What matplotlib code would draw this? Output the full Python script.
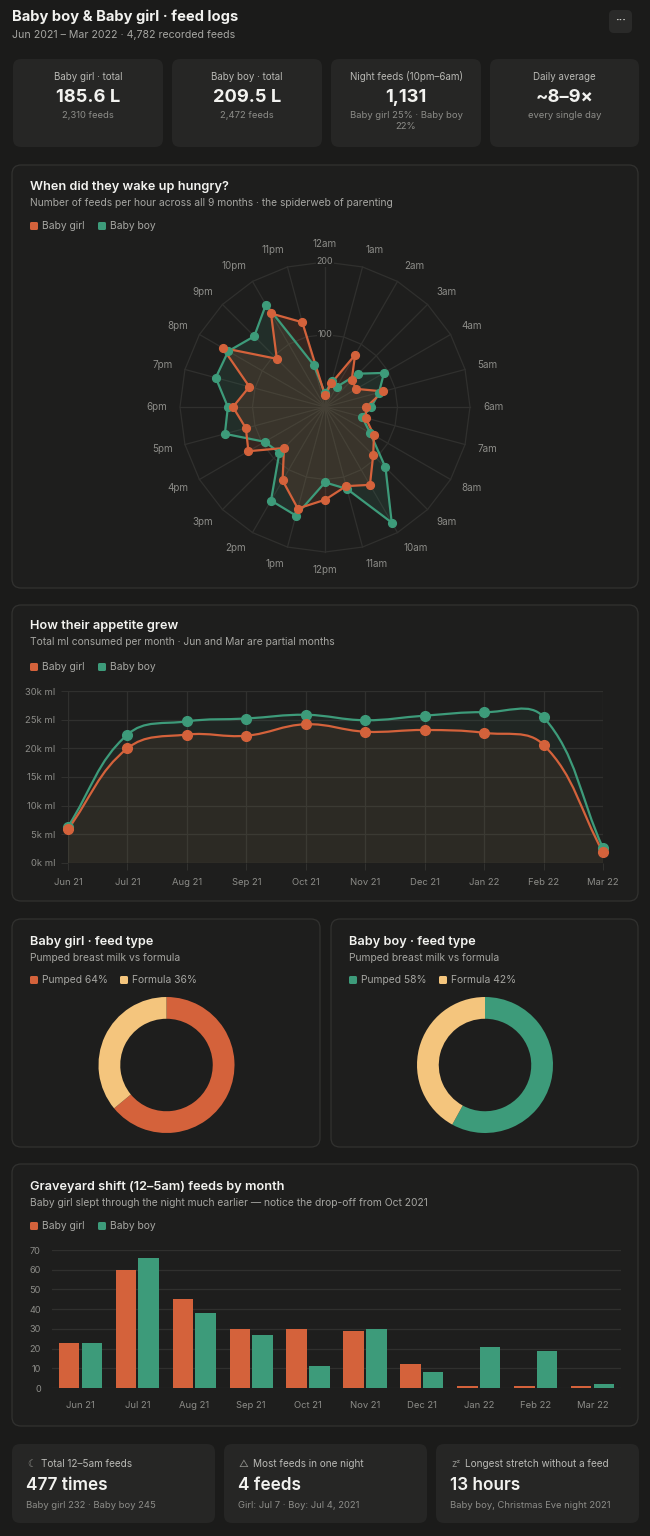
import numpy as np
import matplotlib
matplotlib.use("Agg")
import matplotlib.pyplot as plt
from matplotlib.patches import FancyBboxPatch, Polygon, PathPatch
from matplotlib.path import Path

plt.rcParams['font.family'] = ['Inter', 'DejaVu Sans']

W, H = 650, 1536

# ---- data ----
hours = ["12am", "1am", "2am", "3am", "4am", "5am", "6am", "7am", "8am", "9am", "10am", "11am",
         "12pm", "1pm", "2pm", "3pm", "4pm", "5pm", "6pm", "7pm", "8pm", "9pm", "10pm", "11pm"]
girl_hourly = [16, 34, 83, 52, 50, 83, 57, 58, 78, 94, 124, 113,
               128, 145, 117, 80, 122, 113, 127, 108, 163, 94, 149, 121]
boy_hourly = [19, 37, 32, 65, 94, 77, 64, 53, 72, 118, 184, 117,
              104, 155, 149, 89, 96, 143, 134, 156, 154, 138, 163, 60]

months = ["Jun 21", "Jul 21", "Aug 21", "Sep 21", "Oct 21", "Nov 21", "Dec 21", "Jan 22", "Feb 22", "Mar 22"]
girl_ml = [5900, 20000, 22400, 22200, 24200, 22900, 23200, 22700, 20600, 1900]
boy_ml = [6350, 22400, 24700, 25200, 25850, 24900, 25700, 26300, 25450, 2600]

girl_night = [23, 60, 45, 30, 30, 29, 12, 1, 1, 1]
boy_night = [23, 66, 38, 27, 11, 30, 8, 21, 19, 2]

feed_types = ["Pumped", "Formula"]
girl_type = [64, 36]
boy_type = [58, 42]

stat_labels = ["Baby girl · total", "Baby boy · total", "Night feeds (10pm–6am)", "Daily average"]
stat_values = ["185.6 L", "209.5 L", "1,131", "~8–9×"]
stat_subs = ["2,310 feeds", "2,472 feeds", "Baby girl 25% · Baby boy\n22%", "every single day"]

foot_icons = ["☾", "△", "zᶻ"]
foot_labels = ["Total 12–5am feeds", "Most feeds in one night", "Longest stretch without a feed"]
foot_values = ["477 times", "4 feeds", "13 hours"]
foot_subs = ["Baby girl 232 · Baby boy 245", "Girl: Jul 7 · Boy: Jul 4, 2021", "Baby boy, Christmas Eve night 2021"]

# ---- colours ----
BG = "#1b1b1a"
CARD = "#1e1e1d"
EDGE = "#323230"
TILE = "#262625"
ORANGE = "#d4623b"
GREEN = "#3d9b7a"
YELLOW = "#f4c57d"
TXT = "#f2f2ef"
SUB = "#a6a6a2"
MUTED = "#8c8c88"
GRID = "#30302e"


def rect(x0, y0, x1, y1):
    return [x0 / W, 1 - y1 / H, (x1 - x0) / W, (y1 - y0) / H]


fig = plt.figure(figsize=(W / 100, H / 100), dpi=100)
fig.patch.set_facecolor(BG)
bg = fig.add_axes([0, 0, 1, 1])
bg.set_xlim(0, W)
bg.set_ylim(H, 0)
bg.axis("off")


def card(x0, y0, x1, y1, fc, ec="none", r=9):
    bg.add_patch(FancyBboxPatch((x0, y0), x1 - x0, y1 - y0,
                                boxstyle="round,pad=0,rounding_size=%d" % r,
                                fc=fc, ec=ec, lw=0.9))


def txt(x, y, s, size, color, weight="normal", ha="left", va="center", **kw):
    return bg.text(x, y, s, fontsize=size, color=color, fontweight=weight, ha=ha, va=va, **kw)


def legend(y, items):
    for x, col, lab in items:
        bg.add_patch(FancyBboxPatch((x, y - 4), 8, 8, boxstyle="round,pad=0,rounding_size=1.5",
                                    fc=col, ec="none"))
        txt(x + 12, y, lab, 7.4, SUB)


def head(x, y, title, sub):
    txt(x, y, title, 9.2, TXT, "semibold")
    txt(x, y + 16, sub, 7.4, SUB)


# ---- header ----
txt(12, 17, "Baby boy & Baby girl · feed logs", 10.6, TXT, "bold")
txt(12, 35, "Jun 2021 – Mar 2022 · 4,782 recorded feeds", 7.6, SUB)
card(609, 10, 632, 33, "#2a2a29", r=5)
txt(620.5, 20, "···", 8, "#cfcfcb", "bold", ha="center")

tiles = [(13, 163), (172, 322), (331, 481), (490, 639)]
for (x0, x1), lab, val, sub in zip(tiles, stat_labels, stat_values, stat_subs):
    card(x0, 59, x1, 147, TILE, r=8)
    cx = (x0 + x1) / 2
    txt(cx, 77, lab, 7.0, "#b9b9b5", ha="center")
    txt(cx, 98, val, 13.2, TXT, "bold", ha="center")
    txt(cx, 111, sub, 6.8, MUTED, ha="center", va="top", linespacing=1.35)

# ---- radar card ----
card(12, 165, 638, 588, CARD, EDGE)
head(30, 187, "When did they wake up hungry?",
     "Number of feeds per hour across all 9 months · the spiderweb of parenting")
legend(226, [(30, ORANGE, "Baby girl"), (98, GREEN, "Baby boy")])

pxu = 145 / 200.0
L = 180 / pxu
axr = fig.add_axes(rect(145, 227, 505, 587))
axr.set_xlim(-L, L)
axr.set_ylim(-L, L)
axr.set_aspect("equal")
axr.axis("off")
theta = np.deg2rad(15 * np.arange(len(hours)))
st, ct = np.sin(theta), np.cos(theta)
for ring in [100, 200]:
    axr.plot(np.append(ring * st, ring * st[0]), np.append(ring * ct, ring * ct[0]),
             color=GRID, lw=0.9, zorder=1)
for s, c in zip(st, ct):
    axr.plot([0, 200 * s], [0, 200 * c], color=GRID, lw=0.9, zorder=1)
rl = 158 / pxu
for s, c, lab in zip(st, ct, hours):
    ha = "center" if abs(s) < 0.01 else ("left" if s > 0 else "right")
    axr.text(rl * s, rl * c + 6.5 * c, lab, fontsize=7.1, color=MUTED, ha=ha, va="center")
for v in [100, 200]:
    axr.text(0, v, str(v), fontsize=6.4, color=MUTED, ha="center", va="center", zorder=2,
             bbox=dict(boxstyle="square,pad=0.1", fc=CARD, ec="none"))
for vals, col in [(boy_hourly, GREEN), (girl_hourly, ORANGE)]:
    v = np.array(vals, dtype=float)
    xy = np.column_stack([v * st, v * ct])
    axr.add_patch(Polygon(xy, closed=True, fc=col, alpha=0.13, ec="none", zorder=3))
    axr.plot(np.append(xy[:, 0], xy[0, 0]), np.append(xy[:, 1], xy[0, 1]),
             color=col, lw=1.6, zorder=4)
    axr.plot(xy[:, 0], xy[:, 1], "o", color=col, ms=5.6, mec=col, zorder=5)

# ---- line card ----
card(12, 605, 638, 901, CARD, EDGE)
head(30, 626, "How their appetite grew", "Total ml consumed per month · Jun and Mar are partial months")
legend(667, [(30, ORANGE, "Baby girl"), (98, GREEN, "Baby boy")])

axl = fig.add_axes(rect(68, 691, 603, 863))
axl.set_facecolor("none")
xi = np.arange(len(months))
axl.set_xlim(0, len(months) - 1)
axl.set_ylim(0, 30000)
axl.set_xticks(xi)
axl.set_xticklabels(months)
axl.set_yticks(np.arange(0, 30001, 5000))
axl.set_yticklabels(["%dk ml" % (t // 1000) for t in range(0, 30001, 5000)])
axl.grid(True, color=GRID, lw=0.9)
axl.set_axisbelow(True)
for sp in axl.spines.values():
    sp.set_visible(False)
axl.tick_params(length=5, color=GRID, labelcolor=MUTED, labelsize=6.8, pad=4)
axl.tick_params(axis="x", pad=6)


def chartjs_curve(ax, xs, ys, t=0.4):
    pts = ax.transData.transform(np.column_stack([xs, ys]))
    n = len(pts)
    cp, cn = pts.copy(), pts.copy()
    for i in range(n):
        prev, cur, nxt = pts[max(i - 1, 0)], pts[i], pts[min(i + 1, n - 1)]
        d01 = np.hypot(*(cur - prev))
        d12 = np.hypot(*(nxt - cur))
        tot = d01 + d12
        s01 = d01 / tot if tot else 0
        s12 = d12 / tot if tot else 0
        cp[i] = cur - t * s01 * (nxt - prev)
        cn[i] = cur + t * s12 * (nxt - prev)
    box = ax.bbox
    for c in (cp, cn):
        c[:, 1] = np.clip(c[:, 1], box.y0, box.y1)
    verts = [pts[0]]
    for i in range(1, n):
        verts += [cn[i - 1], cp[i], pts[i]]
    verts = ax.transData.inverted().transform(np.array(verts))
    codes = [Path.MOVETO] + [Path.CURVE4] * (len(verts) - 1)
    return verts, codes


for vals, col in [(boy_ml, GREEN), (girl_ml, ORANGE)]:
    verts, codes = chartjs_curve(axl, xi, vals)
    fill_v = np.vstack([verts, [[xi[-1], 0], [xi[0], 0], [xi[0], 0]]])
    fill_c = codes + [Path.LINETO, Path.LINETO, Path.CLOSEPOLY]
    axl.add_patch(PathPatch(Path(fill_v, fill_c), fc=col, alpha=0.07, ec="none", zorder=2))
    axl.add_patch(PathPatch(Path(verts, codes), fc="none", ec=col, lw=1.6, zorder=3, clip_on=False))
    axl.plot(xi, vals, "o", color=col, ms=7, zorder=4, clip_on=False)

# ---- donut cards ----
for x0, x1, title, vals, col in [(12, 320, "Baby girl · feed type", girl_type, ORANGE),
                                   (331, 638, "Baby boy · feed type", boy_type, GREEN)]:
    card(x0, 919, x1, 1147, CARD, EDGE)
    head(x0 + 18, 942, title, "Pumped breast milk vs formula")
    legend(980, [(x0 + 18, col, "%s %d%%" % (feed_types[0], vals[0])),
                 (x0 + 108, YELLOW, "%s %d%%" % (feed_types[1], vals[1]))])
    cx = (x0 + x1) / 2 + 0.5
    axd = fig.add_axes(rect(cx - 68, 997, cx + 68, 1133))
    axd.pie(vals, colors=[col, YELLOW], startangle=90, counterclock=False, radius=1,
            wedgeprops=dict(width=0.32, edgecolor="none"))
    axd.set_xlim(-1, 1)
    axd.set_ylim(-1, 1)

# ---- graveyard bars ----
card(12, 1164, 638, 1426, CARD, EDGE)
head(30, 1187, "Graveyard shift (12–5am) feeds by month",
     "Baby girl slept through the night much earlier — notice the drop-off from Oct 2021")
legend(1226, [(30, ORANGE, "Baby girl"), (98, GREEN, "Baby boy")])

axb = fig.add_axes(rect(52, 1250, 621, 1388))
axb.set_facecolor("none")
axb.bar(xi - 0.2, girl_night, width=0.36, color=ORANGE, zorder=3)
axb.bar(xi + 0.2, boy_night, width=0.36, color=GREEN, zorder=3)
axb.set_xlim(-0.5, len(months) - 0.5)
axb.set_ylim(0, 70)
axb.set_yticks(np.arange(0, 71, 10))
axb.set_xticks(xi)
axb.set_xticklabels(months)
axb.yaxis.grid(True, color=GRID, lw=0.9)
axb.set_axisbelow(True)
for sp in axb.spines.values():
    sp.set_visible(False)
axb.tick_params(axis="y", length=0, labelcolor=MUTED, labelsize=6.6, pad=8)
axb.tick_params(axis="x", length=0, labelcolor=MUTED, labelsize=6.8, pad=9)

# ---- footer cards ----
foot = [(12, 215), (224, 427), (436, 639)]
for (x0, x1), ic, lab, val, sub in zip(foot, foot_icons, foot_labels, foot_values, foot_subs):
    card(x0, 1444, x1, 1523, TILE, r=8)
    txt(x0 + 15, 1464, ic, 7, MUTED, ha="left")
    txt(x0 + 29, 1464, lab, 7.2, "#b9b9b5")
    txt(x0 + 14, 1485, val, 12.4, TXT, "semibold")
    txt(x0 + 14, 1505, sub, 6.8, MUTED)

fig.savefig("out.png", dpi=100, facecolor=BG)
